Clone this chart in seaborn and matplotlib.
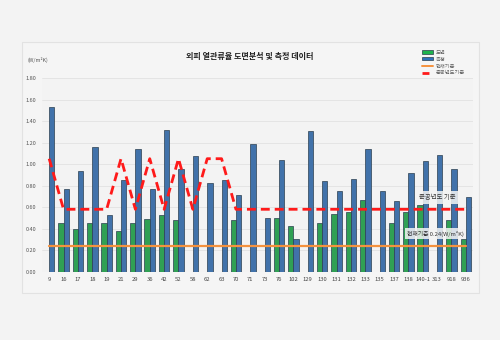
import numpy as np
import pandas as pd
import matplotlib
matplotlib.use("Agg")
import matplotlib.pyplot as plt
from matplotlib.patches import Rectangle
from matplotlib.lines import Line2D
import seaborn as sns

sns.set_theme(style="white")
plt.rcParams["font.family"] = ["Noto Sans CJK KR", "DejaVu Sans"]

categories = ["9", "16", "17", "18", "19", "21", "29", "36", "42", "52",
              "58", "62", "63", "70", "71", "73", "76", "102", "129", "130",
              "131", "132", "133", "135", "137", "138", "140-1", "313", "918", "936"]
drawing = [np.nan, 0.456, 0.397, 0.456, 0.456, 0.38, 0.456, 0.49, 0.525, 0.484,
           np.nan, np.nan, np.nan, 0.484, np.nan, np.nan, 0.50, 0.42, np.nan, 0.456,
           0.537, 0.555, 0.664, np.nan, 0.456, 0.558, 0.62, np.nan, 0.478, 0.30]
measured = [1.535, 0.77, 0.94, 1.157, 0.527, 0.856, 1.14, 0.772, 1.32, 0.955,
            1.077, 0.825, 0.853, 0.71, 1.19, 0.50, 1.04, 0.30, 1.31, 0.847,
            0.75, 0.86, 1.14, 0.748, 0.655, 0.915, 1.027, 1.083, 0.952, 0.695]
built_year_std = [1.05, 0.58, 0.58, 0.58, 0.58, 1.05, 0.58, 1.05, 0.58, 1.05,
                  0.58, 1.05, 1.05, 0.58, 0.58, 0.58, 0.58, 0.58, 0.58, 0.58,
                  0.58, 0.58, 0.58, 0.58, 0.58, 0.58, 0.58, 0.58, 0.58, 0.58]
current_std = 0.24
series_names = ["도면", "측정"]
y_ticks = [0.0, 0.2, 0.4, 0.6, 0.8, 1.0, 1.2, 1.4, 1.6, 1.8]

green = "#1db34d"
blue = "#2f71bb"
orange = "#f5923e"
red = "#ff1a1a"
bg = "#f3f3f3"

df = pd.DataFrame({
    "cat": categories * 2,
    "kind": [series_names[0]] * len(categories) + [series_names[1]] * len(categories),
    "val": drawing + measured,
})

fig = plt.figure(figsize=(5, 3.4), dpi=100, facecolor=bg)
ax = fig.add_axes([0.084, 0.2009, 0.862, 0.5697])
ax.set_facecolor(bg)

# panel frame around the chart
fig.patches.append(Rectangle((22 / 500, 1 - 293 / 340), 457 / 500, 251 / 340,
                             transform=fig.transFigure, facecolor="#f5f5f5",
                             edgecolor="#e2e2e2", linewidth=0.8, zorder=-1))

sns.barplot(data=df, x="cat", y="val", hue="kind", order=categories,
            hue_order=series_names, palette=[green, blue], width=0.74,
            edgecolor="#2b3f4f", linewidth=0.5, ax=ax, legend=False, zorder=3)

x_idx = np.arange(len(categories))
sns.lineplot(x=x_idx, y=[current_std] * len(categories), color=orange,
             linewidth=1.6, ax=ax, zorder=4)
sns.lineplot(x=x_idx, y=built_year_std, color=red, linewidth=2.0, ax=ax,
             zorder=5, linestyle=(0, (3.2, 1.8)))

ax.set_xlim(-0.5, len(categories) - 0.5)
ax.set_ylim(0, 1.8)
ax.set_yticks(y_ticks)
ax.set_yticklabels([f"{v:.2f}" for v in y_ticks], fontsize=4, color="#555555")
ax.set_xticks(x_idx)
ax.set_xticklabels(categories, fontsize=4.2, color="#444444")
ax.tick_params(axis="both", length=0, pad=4)
ax.set_xlabel("")
ax.set_ylabel("")
ax.grid(axis="y", color="#e2e2e2", linewidth=0.6, zorder=0)
ax.set_axisbelow(True)
for s in ax.spines.values():
    s.set_visible(False)

fig.text(0.5, 1 - 57 / 340, "외피 열관류율 도면분석 및 측정 데이터", ha="center",
         va="center", fontsize=5.8, fontweight="bold", color="#222222")
fig.text(27 / 500, 1 - 60 / 340, "(W/m²K)", ha="left", va="center",
         fontsize=3.8, color="#555555")

box = dict(boxstyle="square,pad=0.35", facecolor="#f4f4f4", edgecolor="none", alpha=0.85)
ax.text(27.0, 0.69, "준공년도 기준", ha="center", va="center", fontsize=4.6,
        color="#333333", bbox=box, zorder=6)
ax.text(26.9, 0.355, "현재기준 0.24(W/m²K)", ha="center", va="center",
        fontsize=4.2, color="#333333", bbox=box, zorder=6)

handles = [
    Rectangle((0, 0), 1, 1, facecolor=green, edgecolor="#2b3f4f", linewidth=0.5),
    Rectangle((0, 0), 1, 1, facecolor=blue, edgecolor="#2b3f4f", linewidth=0.5),
    Line2D([], [], color=orange, linewidth=1.4),
    Line2D([], [], color=red, linewidth=2.0, linestyle=(0, (2.5, 1.5))),
]
labels = ["도면", "측정", "현재기준", "준공년도기준"]
fig.legend(handles, labels, loc="upper left", bbox_to_anchor=(417 / 500, 1 - 45 / 340),
           frameon=False, fontsize=3.8, handlelength=2.2, handleheight=0.6,
           labelspacing=0.35, handletextpad=0.4, labelcolor="#666666")

fig.savefig("out.png", dpi=100, facecolor=bg)
